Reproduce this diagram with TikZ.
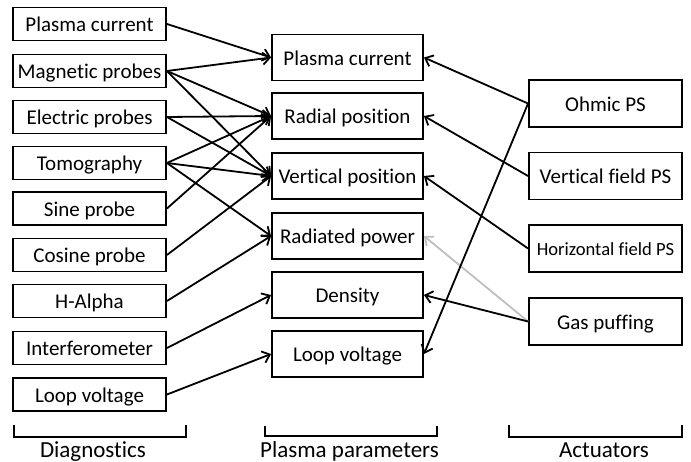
\documentclass[tikz,border=0pt]{standalone}
\usepackage{fontspec}
\setmainfont{Carlito}[Ligatures=NoCommon]
\usetikzlibrary{arrows.meta}
\begin{document}
\begin{tikzpicture}[x=1pt,y=-1pt,
  box/.style={draw,line width=1.9pt,inner sep=0pt,text height=15.5pt,text depth=0pt,
    font=\fontsize{21}{25}\selectfont},
  diag/.style={box,minimum width=153pt,minimum height=33pt},
  param/.style={box,minimum width=151pt,minimum height=46pt},
  act/.style={box,minimum width=153pt,minimum height=47pt},
  link/.style={line width=1.8pt,-{Straight Barb[length=7pt,width=12pt,line width=1.8pt]}},
  faint/.style={link,draw=black!25},
  brace/.style={line width=1.8pt},
  group/.style={font=\fontsize{23}{27}\selectfont,anchor=base}]
\useasboundingbox (0,0) rectangle (691,462);

% Diagnostics
\node[diag] (d1) at (89.5,24)  {Plasma current};
\node[diag] (d2) at (89.5,71)  {Magnetic probes};
\node[diag] (d3) at (89.5,117) {Electric probes};
\node[diag] (d4) at (89.5,163) {Tomography};
\node[diag] (d5) at (89.5,208.5) {Sine probe};
\node[diag] (d6) at (89.5,255) {Cosine probe};
\node[diag] (d7) at (89.5,301) {H-Alpha};
\node[diag] (d8) at (89.5,348) {Interferometer};
\node[diag] (d9) at (89.5,394.5) {Loop voltage};

% Plasma parameters
\node[param] (p1) at (347.5,57.5) {Plasma current};
\node[param] (p2) at (347.5,116)  {Radial position};
\node[param] (p3) at (347.5,176)  {Vertical position};
\node[param] (p4) at (347.5,236)  {Radiated power};
\node[param] (p5) at (347.5,295)  {Density};
\node[param] (p6) at (347.5,354)  {Loop voltage};

% Actuators
\node[act] (a1) at (605.5,103.5) {Ohmic PS};
\node[act] (a2) at (605.5,176)   {Vertical field PS};
\node[act,font=\fontsize{18.6}{22}\selectfont,text height=13.5pt] (a3) at (605.5,248.5) {Horizontal field PS};
\node[act] (a4) at (605.5,321.5) {Gas puffing};

% Diagnostics -> parameters
\draw[link] (d1.east) -- (p1.west);
\draw[link] (d2.east) -- (p1.west);
\draw[link] (d2.east) -- (p2.west);
\draw[link] (d2.east) -- (p3.west);
\draw[link] (d3.east) -- (p2.west);
\draw[link] (d3.east) -- (p3.west);
\draw[link] (d4.east) -- (p2.west);
\draw[link] (d4.east) -- (p3.west);
\draw[link] (d4.east) -- (p4.west);
\draw[link] (d5.east) -- (p2.west);
\draw[link] (d6.east) -- (p3.west);
\draw[link] (d7.east) -- (p4.west);
\draw[link] (d8.east) -- (p5.west);
\draw[link] (d9.east) -- (p6.west);

% Actuators -> parameters
\draw[faint] (a4.west) -- (p4.east);
\draw[link] (a1.west) -- (p1.east);
\draw[link] (a1.west) -- (p6.east);
\draw[link] (a2.west) -- (p2.east);
\draw[link] (a3.west) -- (p3.east);
\draw[link] (a4.west) -- (p5.east);

% Column brackets and titles
\draw[brace] (14,425) -- (14,437) -- (186,437) -- (186,425);
\draw[brace] (265,426) -- (265,436) -- (437,436) -- (437,426);
\draw[brace] (509,425) -- (509,437) -- (682,437) -- (682,425);
\node[group] (g1) at (93,457)    {Diagnostics};
\node[group] (g2) at (349.5,457) {Plasma parameters};
\node[group] (g3) at (604,457)   {Actuators};
\end{tikzpicture}
\end{document}
